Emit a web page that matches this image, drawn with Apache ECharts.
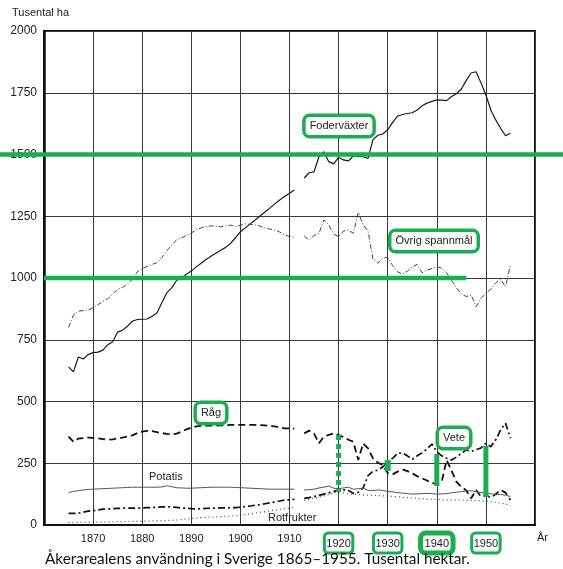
<!DOCTYPE html>
<html><head><meta charset="utf-8">
<script src="https://cdn.jsdelivr.net/npm/echarts@6/dist/echarts.min.js"></script>
<style>html,body{margin:0;padding:0;background:#fff}#c{width:563px;height:569px}</style>
</head><body><div id="c"></div>
<script>
// Years 1865..1955 (1912 missing in original chart)
const years = [];
for (let y = 1865; y <= 1955; y++) years.push(y);

const foderVaxter = [640,620,680,672,690,698,700,708,730,742,781,789,805,825,832,833,834,845,858,900,940,960,990,1000,1015,1028,1045,1060,1075,1088,1100,1112,1124,1140,1163,1187,1203,1219,1235,1251,1267,1283,1300,1316,1330,1343,1356,null,1405,1426,1430,1491,1511,1471,1462,1488,1478,1474,1494,1492,1491,1484,1560,1578,1583,1600,1630,1655,1662,1666,1669,1680,1697,1708,1715,1721,1720,1718,1735,1746,1765,1800,1830,1835,1790,1741,1680,1640,1606,1576,1586];
const ovrigSpannmal = [800,850,866,868,870,880,892,906,916,935,955,962,975,995,1025,1038,1047,1055,1062,1083,1110,1133,1155,1163,1172,1182,1195,1203,1208,1211,1210,1207,1212,1214,1208,1213,1219,1217,1215,1210,1202,1198,1195,1186,1175,1168,1165,null,1170,1154,1172,1180,1235,1215,1178,1167,1190,1194,1181,1265,1215,1190,1075,1060,1080,1084,1050,1025,1016,1028,1045,1055,1021,1032,1038,1045,1040,1021,990,960,935,925,931,884,918,938,955,980,995,965,1053];
const rag = [358,337,350,352,354,353,351,348,345,347,351,354,358,363,372,378,381,380,376,372,369,367,370,378,387,394,399,401,402,402,402,403,404,405,405,405,405,405,405,404,403,401,399,395,391,391,390,null,371,382,370,331,358,365,371,364,356,345,337,263,330,310,270,252,243,210,205,216,225,218,209,198,189,180,170,166,175,263,220,175,155,140,108,142,115,121,110,125,142,131,101];
const vete = [47,47,48,52,56,58,61,64,65,66,67,68,68,68,68,69,70,71,72,73,74,73,71,69,68,66,65,66,67,68,68,69,69,70,70,72,75,77,80,82,86,90,93,97,101,102,104,null,108,111,115,120,125,130,135,142,142,140,128,132,150,200,217,222,235,255,270,290,292,280,266,280,292,308,328,297,280,270,263,275,290,304,298,305,312,331,317,345,385,412,351];
const potatis = [131,136,139,142,144,145,146,147,148,149,150,151,152,153,153,153,153,153,153,154,159,155,151,150,149,149,150,151,152,153,153,153,153,153,152,151,150,149,148,147,146,145,145,145,145,145,145,null,142,143,145,150,153,158,149,147,150,153,145,147,149,140,140,142,140,136,134,131,129,127,125,126,127,128,127,125,126,127,130,133,135,138,139,135,131,129,126,124,123,121,115];
const rotfrukter = [10,10,11,11,12,12,12,13,13,13,14,14,14,15,15,15,16,16,17,17,18,19,20,22,24,26,28,30,31,32,33,34,35,36,37,40,42,45,48,51,54,57,60,63,66,69,72,null,100,104,108,113,118,124,130,135,130,126,124,123,122,121,120,119,118,117,116,114,112,111,110,108,106,105,104,103,102,102,102,102,101,101,100,99,98,96,94,92,89,85,78];

const yTicks = [0,250,500,750,1000,1250,1500,1750,2000];
const xTickYears = [1870,1880,1890,1900,1910,1920,1930,1940,1950];
const highlightedYears = [1920,1930,1940,1950];
// green annotation bars: [year, from, to]
const barsAnnot = [[1920,364,134],[1930,263,219],[1940,287,158],[1950,320,113]];
const greenLines = [[1500],[1000,1860,1946]];

const GREEN = '#19ae4e';
const pair = arr => years.map((y,i) => [y, arr[i]]);

function lineSeries(name, arr, color, width, type) {
  return {name, type:'line', data: pair(arr), showSymbol:false, symbol:'none',
    connectNulls:false, silent:true, animation:false,
    lineStyle:{color, width, type}, z:3};
}

const chart = echarts.init(document.getElementById('c'), null, {renderer:'canvas'});

const series = [
  lineSeries('Foderväxter', foderVaxter, '#1a1a1a', 1.2, 'solid'),
  lineSeries('Övrig spannmål', ovrigSpannmal, '#444', 1, [5,2,1,2]),
  lineSeries('Råg', rag, '#111', 1.8, [7,4]),
  lineSeries('Vete', vete, '#111', 1.7, [7,3,2,3]),
  lineSeries('Potatis', potatis, '#555', 1, 'solid'),
  lineSeries('Rotfrukter', rotfrukter, '#444', 1.2, [1,3]),
];
// green full-width line at 1500 (second grid covering canvas width)
series.push({type:'line', xAxisIndex:1, yAxisIndex:1, data:[[0,greenLines[0][0]],[1,greenLines[0][0]]],
  symbol:'none', silent:true, animation:false, lineStyle:{color:GREEN, width:4.5}, z:5});
series.push({type:'line', data:[[greenLines[1][1],greenLines[1][0]],[greenLines[1][2],greenLines[1][0]]],
  symbol:'none', silent:true, animation:false, lineStyle:{color:GREEN, width:4.5}, z:5});
barsAnnot.forEach((b,i) => {
  series.push({type:'line', data:[[b[0],b[1]],[b[0],b[2]]], symbol:'none', silent:true, animation:false,
    lineStyle:{color:GREEN, width: i===1?6:5, type: i===0?[5,4]:'solid', cap:'butt'}, z:6});
});

const boxed = (text, x, y, bw) => ({type:'text', x, y, z:20, style:{
  text, x:0, y:0, align:'center', verticalAlign:'middle',
  font:'11px "Liberation Sans", Arial, sans-serif', fill:'#222',
  backgroundColor:'#fff', borderColor:GREEN, borderWidth:bw||3.5, borderRadius:4, padding:[4,4,3,4]}});
const plain = (text, x, y, size) => ({type:'text', x, y, z:20, style:{
  text, x:0, y:0, align:'left', verticalAlign:'middle',
  font:(size||11)+'px "Liberation Sans", Arial, sans-serif', fill:'#222'}});

chart.setOption({
  animation:false,
  backgroundColor:'#fff',
  grid:[
    {left:44, right:28, top:31, bottom:44, show:true, borderColor:'#111', borderWidth:2, backgroundColor:'transparent'},
    {left:0, right:0, top:31, bottom:44, show:false}
  ],
  xAxis:[
    {type:'value', gridIndex:0, min:1860, max:1960, interval:10,
      axisLine:{show:true, lineStyle:{color:'#111', width:2}}, axisTick:{show:false},
      splitLine:{show:true, lineStyle:{color:'#3a3a3a', width:1}},
      axisLabel:{show:true, margin:8, fontSize:11, color:'#222', fontFamily:'"Liberation Sans", Arial, sans-serif',
        showMinLabel:false, showMaxLabel:false,
        formatter: v => xTickYears.indexOf(v) < 0 ? '' : (highlightedYears.indexOf(v) < 0 ? String(v) : (v===1940 ? '{h|'+v+'}' : '{g|'+v+'}')),
        rich:{
          g:{fontSize:11, color:'#222', borderColor:GREEN, borderWidth:3, borderRadius:4, padding:[5,2,4,2]},
          h:{fontSize:11, color:'#222', borderColor:GREEN, borderWidth:5, borderRadius:5, padding:[5,4,4,4]}
        }}},
    {type:'value', gridIndex:1, min:0, max:1, show:false}
  ],
  yAxis:[
    {type:'value', gridIndex:0, min:0, max:2000, interval:250,
      axisLine:{show:true, lineStyle:{color:'#111', width:2.5}}, axisTick:{show:false},
      splitLine:{show:true, lineStyle:{color:'#3a3a3a', width:1}},
      axisLabel:{margin:7, fontSize:12, color:'#222', fontFamily:'"Liberation Sans", Arial, sans-serif',
        formatter: v => yTicks.indexOf(v) >= 0 ? String(v) : ''}},
    {type:'value', gridIndex:1, min:0, max:2000, show:false}
  ],
  series,
  graphic:[
    plain('Tusental ha', 12, 13, 11),
    plain('År', 537, 538, 11),
    plain('Potatis', 149, 477, 11),
    plain('Rotfrukter', 268, 518, 11),
    boxed('Foderväxter', 339, 126),
    boxed('Övrig spannmål', 434, 241),
    boxed('Råg', 211, 413),
    boxed('Vete', 454, 438),
    {type:'text', x:45, y:559, z:20, style:{text:'Åkerarealens användning i Sverige 1865–1955. Tusental hektar.',
      x:0, y:0, align:'left', verticalAlign:'middle', font:'15.3px Lato, "Open Sans", sans-serif', fill:'#111'}}
  ]
});
</script></body></html>
